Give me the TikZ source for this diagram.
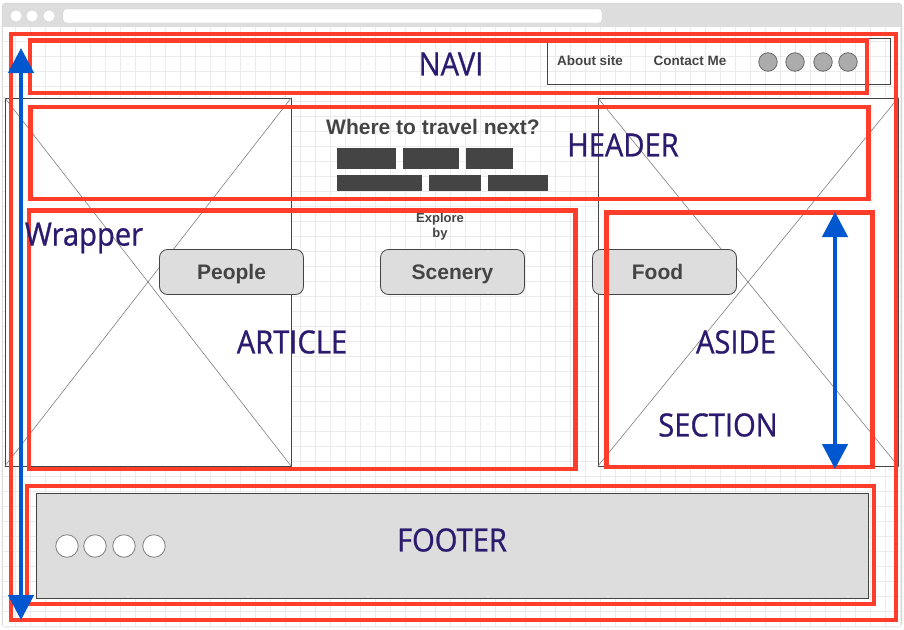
\documentclass[tikz,border=0pt]{standalone}
\usepackage{fontspec}
\setmainfont{Liberation Sans}
\newfontfamily\lblfont[FakeStretch=0.91,FakeBold=0.8]{Open Sans}
\usepackage{tikz}
\usetikzlibrary{arrows.meta,fit,positioning}

\definecolor{redline}{HTML}{FF3D2A}
\definecolor{bluearr}{HTML}{0057D0}
\definecolor{navy}{HTML}{2B1A6E}
\definecolor{txtgray}{HTML}{444444}
\definecolor{btngray}{HTML}{DDDDDD}
\definecolor{gridgray}{HTML}{EBEBEB}
\definecolor{framegray}{HTML}{CCCCCC}

\tikzset{
  redbox/.style={draw=redline,line width=4.5pt,inner sep=0pt},
  imgbox/.style={draw=txtgray,fill=white,line width=0.8pt,inner sep=0pt},
  cross/.style={draw=gray,line width=0.6pt},
  lbl/.style={text=navy,inner sep=0pt,font=\lblfont\fontsize{32}{32}\selectfont},
  ui/.style={text=txtgray,inner sep=0pt,font=\bfseries\fontsize{13.5}{15}\selectfont},
  btn/.style={draw=txtgray,fill=btngray,rounded corners=8pt,line width=0.8pt,
    minimum width=144pt,minimum height=45pt,inner sep=0pt,text height=15pt,text depth=0pt,
    text=txtgray,font=\bfseries\fontsize{21}{22}\selectfont},
  navdot/.style={circle,draw=gray!80!black,fill=gray!65,line width=0.8pt,minimum size=18.5pt,inner sep=0pt},
  footdot/.style={circle,draw=gray,fill=white,line width=0.8pt,minimum size=22.5pt,inner sep=0pt},
  bluedbl/.style={draw=bluearr,line width=4.5pt,
    {Triangle[length=25pt,width=25pt]}-{Triangle[length=25pt,width=25pt]}},
}

\begin{document}
\begin{tikzpicture}[x=1pt,y=-1pt]
  \useasboundingbox (0,0) rectangle (904,629);

  % browser window
  \draw[draw=framegray,fill=btngray,rounded corners=4pt] (2,3) rectangle (902,627);
  \fill[white] (3,27) rectangle (901,626);
  \draw[gridgray,line width=1pt,step=15pt,shift={(0.7,11)}] (2.3,16) grid (900.3,615);
  \foreach \x in {16,32,49}
    \fill[white] (\x,16) circle (5.5pt);
  \draw[draw=framegray,fill=white,rounded corners=3pt] (63,9) rectangle (602,23);

  % image placeholders
  \node[imgbox,fit={(5,98) (291,466)}] (imgleft) {};
  \draw[cross] (imgleft.north west) -- (imgleft.south east);
  \draw[cross] (imgleft.north east) -- (imgleft.south west);
  \node[imgbox,fit={(598,98) (898,466)}] (imgright) {};
  \draw[cross] (imgright.north west) -- (imgright.south east);
  \draw[cross] (imgright.north east) -- (imgright.south west);

  % nav bar
  \node[draw=txtgray,line width=0.8pt,inner sep=0pt,fit={(547,38) (890,84)}] (navbox) {};
  \draw (590,61) node[ui] (about) {About site};
  \draw (690,61) node[ui] (contact) {Contact Me};
  \foreach \x/\n in {768/1,795/2,823/3,848/4}
    \draw (\x,62) node[navdot] (navdot\n) {};

  % header
  \draw (433,127) node[text=txtgray,font=\bfseries\fontsize{21}{22}\selectfont] (title) {Where to travel next?};
  \foreach \xa/\xb in {337/396,403/459,466/513}
    \fill[txtgray] (\xa,148) rectangle (\xb,169);
  \foreach \xa/\xb in {337/422,429/481,488/548}
    \fill[txtgray] (\xa,175) rectangle (\xb,191);

  % buttons
  \draw (440,226.5) node[ui,align=center,font=\bfseries\fontsize{13}{15}\selectfont] (explore) {Explore\\by};
  \draw (231.5,272) node[btn] (people) {People};
  \draw (452.5,272) node[btn] (scenery) {Scenery};
  \draw (664.5,272) node[btn] (food) {Food\kern14pt};

  % footer
  \node[fill=btngray,draw=txtgray,line width=0.8pt,inner sep=0pt,fit={(36,493) (868,598)}] (footbox) {};
  \foreach \x/\n in {67/1,95/2,124/3,154/4}
    \draw (\x,546) node[footdot] (footdot\n) {};

  % layout boxes
  \node[redbox,fit={(11,34) (896,620)}] (wrapper) {};
  \node[redbox,fit={(30,40.5) (867,93)}] (navi) {};
  \node[redbox,fit={(30.5,107) (868.5,199)}] (header) {};
  \node[redbox,fit={(29,210.5) (575.5,469)}] (article) {};
  \node[redbox,fit={(606.5,212.5) (872.5,467)}] (aside) {};
  \node[redbox,fit={(27,486) (874,604)}] (footer) {};

  \draw (451,64) node[lbl] (navilbl) {NAVI};
  \draw (623,145) node[lbl] (headerlbl) {HEADER};
  \draw (84,238) node[lbl] (wrapperlbl) {Wrapper};
  \draw (292,342) node[lbl] (articlelbl) {ARTICLE};
  \draw (736,342) node[lbl] (asidelbl) {ASIDE};
  \draw (718,425) node[lbl] (sectionlbl) {SECTION};
  \draw (452,540) node[lbl] (footerlbl) {FOOTER};

  % height arrows
  \coordinate (wraptop) at (21,48);
  \coordinate (wrapbot) at (21,620);
  \coordinate (asidetop) at (835,212);
  \coordinate (asidebot) at (835,469);
  \draw[bluedbl] (wraptop) -- (wrapbot);
  \draw[bluedbl] (asidetop) -- (asidebot);
\end{tikzpicture}
\end{document}
